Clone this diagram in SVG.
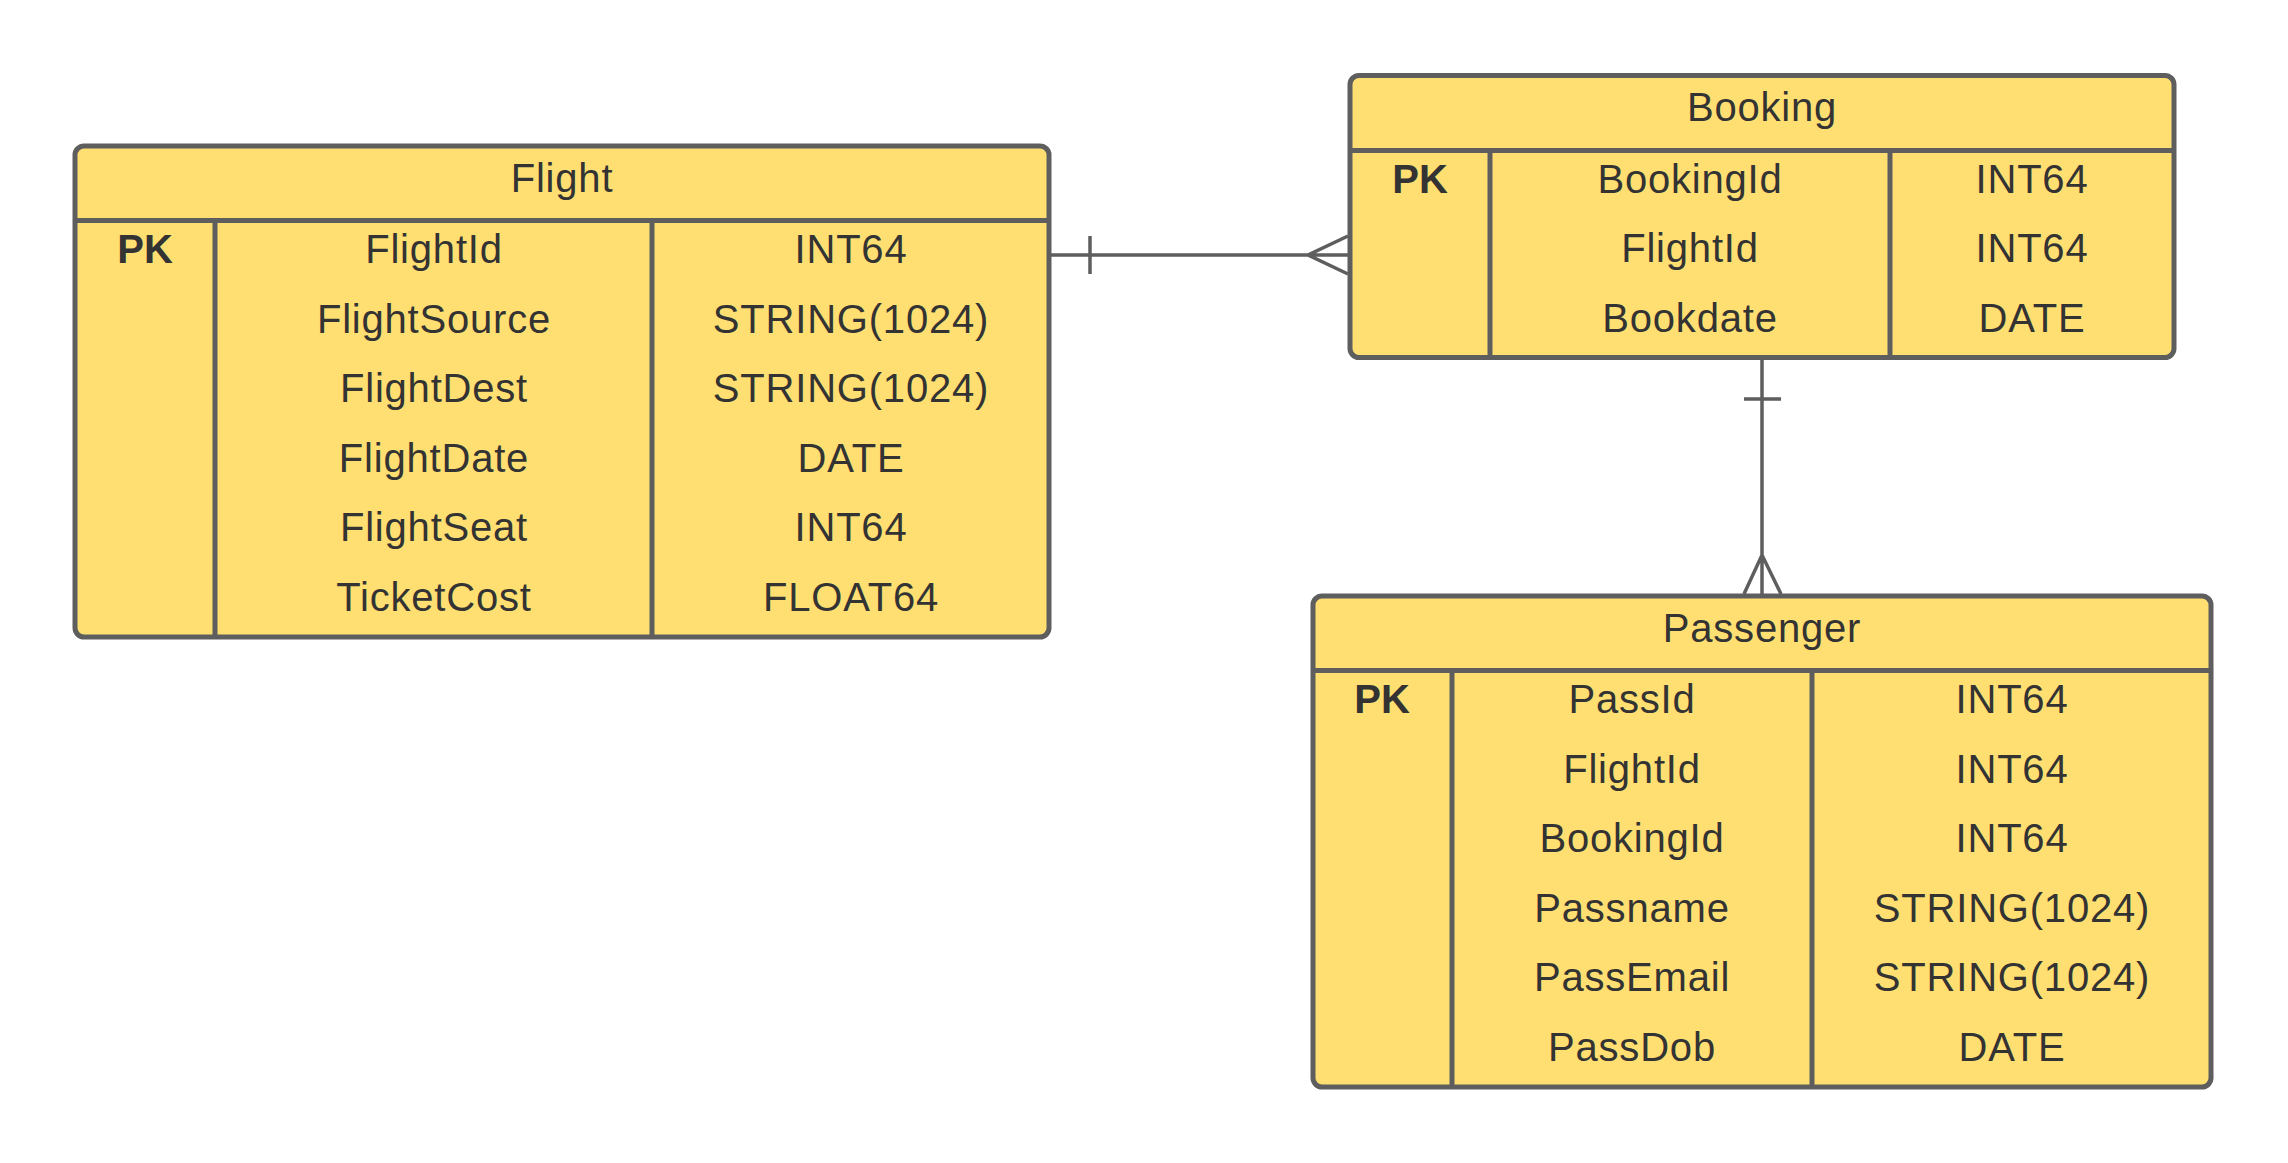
<svg xmlns="http://www.w3.org/2000/svg" width="2288" height="1163" viewBox="0 0 2288 1163">
<style>
.box{fill:#FFDF71;stroke:#5E5E5E;stroke-width:5}
.div{stroke:#5E5E5E;stroke-width:5;fill:none}
.con{stroke:#5E5E5E;stroke-width:3.5;fill:none}
text{font-family:"Liberation Sans",Arial,sans-serif;font-size:40px;fill:#333333;text-anchor:middle;letter-spacing:0.8px}
.pk{font-weight:bold;letter-spacing:0}
</style>
<rect width="2288" height="1163" fill="#FFFFFF"/>
<g id="connectors">
  <path class="con" d="M1049,255 H1348 M1090,236 V274 M1348,236 L1308,255 L1348,274"/>
  <path class="con" d="M1762,358 V594 M1744,399 H1781 M1744,594 L1762,555 L1781,594"/>
</g>
<g id="flight">
  <rect class="box" x="75" y="146" width="974" height="491" rx="9"/>
  <path class="div" d="M75,220.5 H1049 M215,220.5 V637 M652,220.5 V637"/>
  <text x="562" y="192">Flight</text>
  <text class="pk" x="145" y="263">PK</text>
  <text x="434" y="263">FlightId</text>
  <text x="434" y="332.6">FlightSource</text>
  <text x="434" y="402.2">FlightDest</text>
  <text x="434" y="471.8">FlightDate</text>
  <text x="434" y="541.4">FlightSeat</text>
  <text x="434" y="611">TicketCost</text>
  <text x="851" y="263">INT64</text>
  <text x="851" y="332.6">STRING(1024)</text>
  <text x="851" y="402.2">STRING(1024)</text>
  <text x="851" y="471.8">DATE</text>
  <text x="851" y="541.4">INT64</text>
  <text x="851" y="611">FLOAT64</text>
</g>
<g id="booking">
  <rect class="box" x="1350" y="75.5" width="824" height="282" rx="9"/>
  <path class="div" d="M1350,150.5 H2174 M1490,150.5 V357.5 M1890,150.5 V357.5"/>
  <text x="1762" y="121">Booking</text>
  <text class="pk" x="1420" y="193">PK</text>
  <text x="1690" y="193">BookingId</text>
  <text x="1690" y="262.3">FlightId</text>
  <text x="1690" y="331.6">Bookdate</text>
  <text x="2032" y="193">INT64</text>
  <text x="2032" y="262.3">INT64</text>
  <text x="2032" y="331.6">DATE</text>
</g>
<g id="passenger">
  <rect class="box" x="1313" y="596" width="898" height="491" rx="9"/>
  <path class="div" d="M1313,670.5 H2211 M1452,670.5 V1087 M1812,670.5 V1087"/>
  <text x="1762" y="641.5">Passenger</text>
  <text class="pk" x="1382" y="713.3">PK</text>
  <text x="1632" y="713.3">PassId</text>
  <text x="1632" y="782.8">FlightId</text>
  <text x="1632" y="852.3">BookingId</text>
  <text x="1632" y="921.8">Passname</text>
  <text x="1632" y="991.3">PassEmail</text>
  <text x="1632" y="1060.8">PassDob</text>
  <text x="2012" y="713.3">INT64</text>
  <text x="2012" y="782.8">INT64</text>
  <text x="2012" y="852.3">INT64</text>
  <text x="2012" y="921.8">STRING(1024)</text>
  <text x="2012" y="991.3">STRING(1024)</text>
  <text x="2012" y="1060.8">DATE</text>
</g>
</svg>
